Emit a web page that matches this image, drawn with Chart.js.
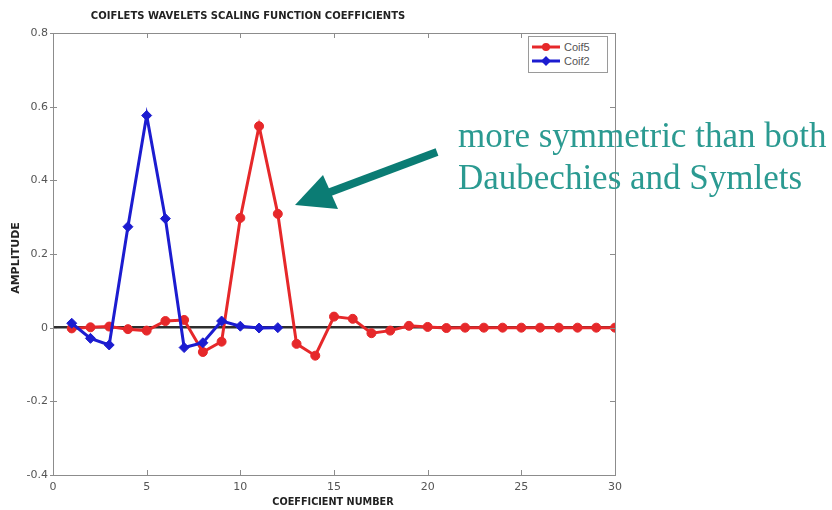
<!DOCTYPE html>
<html>
<head>
<meta charset="utf-8">
<script src="https://cdn.jsdelivr.net/npm/chart.js@4.4.1/dist/chart.umd.min.js"></script>
<style>
  html, body { margin: 0; padding: 0; background: #fff; }
  #wrap { position: relative; width: 832px; height: 510px; overflow: hidden; }
  #chart { position: absolute; left: 0; top: 0; }
  .lbl { position: absolute; font-family: "DejaVu Sans", sans-serif; font-weight: bold; color: #222; white-space: nowrap; line-height: 12px; }
  #title { left: 48px; top: 10px; width: 400px; text-align: center; font-size: 10px; }
  #xlabel { left: 233px; top: 496px; width: 200px; text-align: center; font-size: 9.7px; }
  #ylabel { left: -34px; top: 252px; width: 100px; text-align: center; font-size: 11px; transform: rotate(-90deg); }
  #legend { position: absolute; left: 528px; top: 36px; width: 80px; height: 37px; border: 1px solid #9a9a9a; background: #fff;
            font-family: "Liberation Sans", Arial, sans-serif; font-size: 11px; color: #555; box-sizing: border-box; padding-top: 3px; }
  #legend div { display: flex; align-items: center; height: 14px; }
  #legend svg { margin: 0 4px 0 3px; }
  #note { position: absolute; left: 458px; top: 115px; font-family: "Liberation Serif", "Times New Roman", serif; font-size: 35px;
          line-height: 42px; color: #2b9a91; white-space: nowrap; }
</style>
</head>
<body>
<div id="wrap">
  <canvas id="chart" width="832" height="510"></canvas>
  <div class="lbl" id="title">COIFLETS WAVELETS SCALING FUNCTION COEFFICIENTS</div>
  <div class="lbl" id="xlabel">COEFFICIENT NUMBER</div>
  <div class="lbl" id="ylabel">AMPLITUDE</div>
  <div id="legend"></div>
  <div id="note">more symmetric than both<br>Daubechies and Symlets</div>
</div>
<script>
// values
const coif5X = [1, 2, 3, 4, 5, 6, 7, 8, 9, 10, 11, 12, 13, 14, 15, 16, 17, 18, 19, 20, 21, 22, 23, 24, 25, 26, 27, 28, 29, 30];
const coif5Y = [-0.002, 0.001, 0.003, -0.004, -0.008, 0.018, 0.021, -0.066, -0.038, 0.298, 0.547, 0.309, -0.044, -0.076, 0.030, 0.024,
                -0.015, -0.008, 0.005, 0.002, -0.001, 0, 0, 0, 0, 0, 0, 0, 0, 0];
const coif2X = [1, 2, 3, 4, 5, 6, 7, 8, 9, 10, 11, 12];
const coif2Y = [0.012, -0.029, -0.047, 0.274, 0.576, 0.296, -0.054, -0.041, 0.018, 0.004, -0.001, 0.000];
const xTicks = [0, 5, 10, 15, 20, 25, 30];
const yTicks = [-0.4, -0.2, 0, 0.2, 0.4, 0.6, 0.8];
const yTickLabels = ['-0.4', '-0.2', '0', '0.2', '0.4', '0.6', '0.8'];

const RED = '#e6282a';
const BLUE = '#1c1cd0';

const series = [
  { label: 'Coif2', x: coif2X, y: coif2Y, color: BLUE, marker: 'rectRot', r: 5 },
  { label: 'Coif5', x: coif5X, y: coif5Y, color: RED, marker: 'circle', r: 4.5 }
];

// frame, inner ticks and the arrow
const extras = {
  id: 'extras',
  afterDraw(chart) {
    const { ctx, chartArea: a, scales: { x, y } } = chart;
    ctx.save();
    ctx.strokeStyle = '#8c8c8c';
    ctx.lineWidth = 1;
    ctx.strokeRect(a.left + 0.5, a.top + 0.5, a.right - a.left, a.bottom - a.top);
    ctx.beginPath();
    x.ticks.forEach(t => {
      const px = Math.round(x.getPixelForValue(t.value)) + 0.5;
      ctx.moveTo(px, a.bottom); ctx.lineTo(px, a.bottom - 5);
      ctx.moveTo(px, a.top); ctx.lineTo(px, a.top + 5);
    });
    y.ticks.forEach(t => {
      const py = Math.round(y.getPixelForValue(t.value)) + 0.5;
      ctx.moveTo(a.left - 3, py); ctx.lineTo(a.left + 4, py);
      ctx.moveTo(a.right, py); ctx.lineTo(a.right - 5, py);
    });
    ctx.stroke();

    // annotation arrow
    ctx.strokeStyle = '#0b7c74';
    ctx.fillStyle = '#0b7c74';
    ctx.lineWidth = 8;
    ctx.beginPath();
    ctx.moveTo(437, 152);
    ctx.lineTo(325, 194);
    ctx.stroke();
    ctx.beginPath();
    ctx.moveTo(295, 205);
    ctx.lineTo(323, 175);
    ctx.lineTo(338, 209);
    ctx.closePath();
    ctx.fill();
    ctx.restore();
  }
};

new Chart(document.getElementById('chart').getContext('2d'), {
  type: 'line',
  data: {
    datasets: series.map(s => ({
      label: s.label,
      data: s.x.map((v, i) => ({ x: v, y: s.y[i] })),
      borderColor: s.color,
      backgroundColor: s.color,
      borderWidth: 3,
      pointStyle: s.marker,
      pointRadius: s.r,
      pointBorderWidth: 1,
      tension: 0,
      fill: false
    }))
  },
  options: {
    responsive: false,
    animation: false,
    layout: { padding: { top: 33, right: 217, left: 0, bottom: 0 } },
    plugins: { legend: { display: false }, tooltip: { enabled: false }, title: { display: false } },
    scales: {
      x: {
        type: 'linear', min: 0, max: 30,
        afterBuildTicks: s => { s.ticks = xTicks.map(v => ({ value: v })); },
        afterFit: s => { s.height = 35; },
        grid: { display: false, drawTicks: false },
        border: { display: false },
        ticks: { padding: 6, color: '#555', font: { family: 'DejaVu Sans', size: 11 } }
      },
      y: {
        type: 'linear', min: -0.4, max: 0.8,
        afterBuildTicks: s => { s.ticks = yTicks.map(v => ({ value: v })); },
        afterFit: s => { s.width = 53; },
        grid: {
          drawTicks: false,
          color: c => (c.tick && c.tick.value === 0 ? '#2e2e2e' : 'rgba(0,0,0,0)'),
          lineWidth: 2.5
        },
        border: { display: false },
        ticks: {
          padding: 5, color: '#555', font: { family: 'DejaVu Sans', size: 11 },
          callback: v => yTickLabels[yTicks.indexOf(Math.round(v * 10) / 10)]
        }
      }
    }
  },
  plugins: [extras]
});

// legend, MATLAB style: line with marker
const legend = document.getElementById('legend');
['Coif5', 'Coif2'].forEach(name => {
  const s = series.find(d => d.label === name);
  const mk = s.marker === 'circle'
    ? `<circle cx="14" cy="5" r="4" fill="${s.color}"/>`
    : `<polygon points="14,0 19,5 14,10 9,5" fill="${s.color}"/>`;
  legend.innerHTML += `<div><svg width="28" height="10"><line x1="0" y1="5" x2="28" y2="5" stroke="${s.color}" stroke-width="3"/>${mk}</svg><span>${name}</span></div>`;
});
</script>
</body>
</html>
